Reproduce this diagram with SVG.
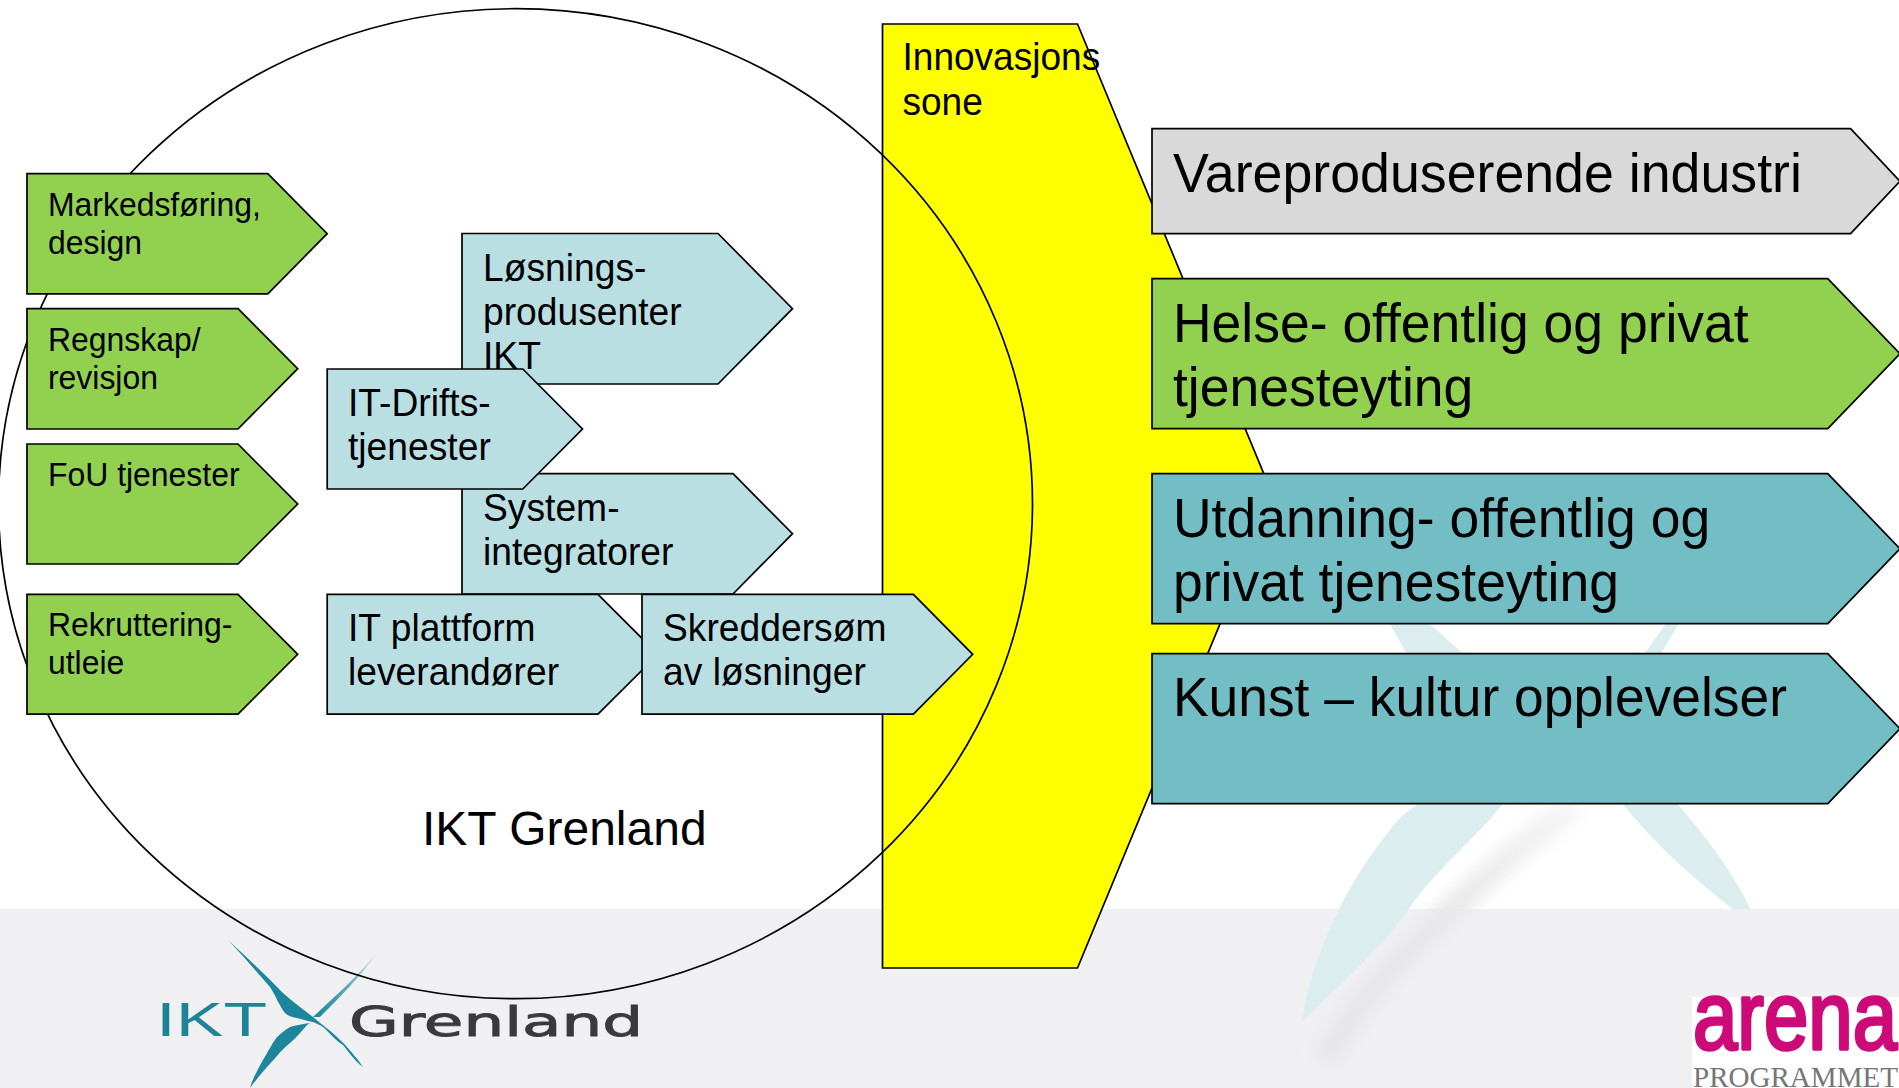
<svg xmlns="http://www.w3.org/2000/svg" width="1899" height="1088" viewBox="0 0 1899 1088">
<style>
.s{stroke:#000;stroke-width:1.7;stroke-linejoin:miter}
.g{fill:#92D050}.b{fill:#B9DFE3}.t{fill:#73BEC5}.y{fill:#FFFF00}.h{fill:#D9D9D9}
text{font-family:"Liberation Sans",Arial,sans-serif;fill:#000}
.f33{font-size:33px}.f38{font-size:38.4px}.f48{font-size:48px}.f56{font-size:56px}
.wm{fill:#DCEDF0}.lg{fill:#1C879C}
</style>
<defs>
<filter id="blur" x="-30%" y="-30%" width="160%" height="160%"><feGaussianBlur stdDeviation="8"/></filter>
<linearGradient id="fade" gradientUnits="userSpaceOnUse" x1="377" y1="953" x2="315" y2="1017"><stop offset="0" stop-color="#D5E4E8"/><stop offset="0.5" stop-color="#5FA9B8"/><stop offset="1" stop-color="#1C879C"/></linearGradient>
<linearGradient id="shade" gradientUnits="userSpaceOnUse" x1="1575" y1="805" x2="1325" y2="1060"><stop offset="0" stop-color="#F5F5F5"/><stop offset="0.45" stop-color="#E8E8EA"/><stop offset="1" stop-color="#E6E6E8"/></linearGradient>
</defs>
<g id="background">
<rect width="1899" height="1088" fill="#fff"/>
<rect y="909" width="1899" height="179" fill="#F0F0F2"/>
</g>
<g id="watermark">
<path d="M1575 805C1500 860 1440 920 1400 960C1370 990 1340 1030 1325 1060" fill="none" stroke="url(#shade)" stroke-width="26" filter="url(#blur)"/>
<path class="wm" d="M1302 1022C1310 960 1345 885 1390 830C1400 815 1420 800 1440 795L1510 795C1480 835 1440 865 1410 907C1385 945 1350 975 1302 1022Z"/>
<path class="wm" d="M1385 615L1420 615L1470 660L1410 660Z"/>
<path class="wm" d="M1672 615L1684 615L1657 660L1640 660Z"/>
<path class="wm" d="M1615 795L1670 795C1705 835 1735 875 1750 909L1733 909C1695 880 1655 845 1615 795Z"/>
</g>
<g id="logo-ikt-grenland">
<text x="156" y="1036" font-size="49" textLength="111" lengthAdjust="spacingAndGlyphs" style="fill:#1F8397">IKT</text>
<text x="349" y="1036" font-size="41" textLength="294" lengthAdjust="spacingAndGlyphs" style="fill:#3A3A3C;stroke:#3A3A3C;stroke-width:0.9;font-family:'DejaVu Sans',sans-serif">Grenland</text>
<path d="M377 953C360 977 340 997 320 1017L313 1017C333 998 357 977 377 953Z" fill="url(#fade)"/>
<path class="lg" d="M229 941C250 960 265 975 283 993C293 1002 303 1009 313 1017C322 1025 330 1030 337 1037C347 1046 356 1057 363 1067C356 1062 350 1054 343 1045C335 1040 330 1033 323 1027C320 1025 316 1023 313 1022C305 1021 303 1019 297 1018C292 1017 288 1016 285 1013C282 1010 281 1006 278 1002C276 997 273 992 270 987C257 972 243 956 229 941Z"/>
<path class="lg" d="M250 1088C253 1078 258 1069 263 1060C268 1052 271 1045 277 1037C281 1033 285 1030 290 1027C296 1025 303 1024 310 1023L307 1025C301 1032 296 1038 290 1043C281 1050 274 1060 267 1067C261 1074 255 1081 250 1088Z"/>
</g>
<g id="logo-arena">
<rect x="1692" y="997" width="207" height="91" fill="#fff"/>
<text x="1693" y="1049" font-size="96" textLength="204" lengthAdjust="spacingAndGlyphs" style="fill:#CC0A78;stroke:#CC0A78;stroke-width:3.5;stroke-linejoin:round">arena</text>
<text x="1693" y="1087" font-size="29" textLength="205" lengthAdjust="spacingAndGlyphs" style="font-family:'Liberation Serif',serif;fill:#767676">PROGRAMMET</text>
</g>
<g id="innovasjonssone">
<polygon class="s y" points="882.5,24 1077.5,24 1273,496 1077.5,968 882.5,968"/>
<text class="f38" transform="matrix(.965 0 0 1 902.5 69.5)">Innovasjons</text>
<text class="f38" transform="matrix(.965 0 0 1 902.5 115)">sone</text>
</g>
<g id="ikt-grenland">
<ellipse cx="515.5" cy="503.7" rx="517" ry="495" fill="none" stroke="#000" stroke-width="1.7"/>
<text class="f48" x="422" y="844.5">IKT Grenland</text>
</g>
<g id="markedsforing">
<polygon class="s g" points="27,173.7 267.8,173.7 327.2,233.7 267.8,293.9 27,293.9"/>
<text class="f33" transform="matrix(.967 0 0 1 48 216)">Markedsføring,</text>
<text class="f33" transform="matrix(.967 0 0 1 48 253.5)">design</text>
</g>
<g id="regnskap">
<polygon class="s g" points="27,308.6 238,308.6 297.7,368.7 238,429 27,429"/>
<text class="f33" transform="matrix(.967 0 0 1 48 350.5)">Regnskap/</text>
<text class="f33" transform="matrix(.967 0 0 1 48 388.5)">revisjon</text>
</g>
<g id="fou">
<polygon class="s g" points="27,444 238,444 297.7,504 238,564 27,564"/>
<text class="f33" transform="matrix(.967 0 0 1 48 486)">FoU tjenester</text>
</g>
<g id="rekruttering">
<polygon class="s g" points="27,594.3 238,594.3 297.7,654.3 238,714.2 27,714.2"/>
<text class="f33" transform="matrix(.967 0 0 1 48 636)">Rekruttering-</text>
<text class="f33" transform="matrix(.967 0 0 1 48 673.5)">utleie</text>
</g>
<g id="losningsprodusenter">
<polygon class="s b" points="462,233.5 718,233.5 792.5,308.7 718,384 462,384"/>
<text class="f38" transform="matrix(.97 0 0 1 483 281)">Løsnings-</text>
<text class="f38" transform="matrix(.97 0 0 1 483 325)">produsenter</text>
<text class="f38" transform="matrix(.97 0 0 1 483 369)">IKT</text>
</g>
<g id="systemintegratorer">
<polygon class="s b" points="462,473.7 733,473.7 792.5,533.7 733,594 462,594"/>
<text class="f38" transform="matrix(.97 0 0 1 483 520.5)">System-</text>
<text class="f38" transform="matrix(.97 0 0 1 483 564.5)">integratorer</text>
</g>
<g id="it-drifts">
<polygon class="s b" points="327.2,369 522.8,369 582.5,429 522.8,489 327.2,489"/>
<text class="f38" transform="matrix(.97 0 0 1 348 416)">IT-Drifts-</text>
<text class="f38" transform="matrix(.97 0 0 1 348 459.5)">tjenester</text>
</g>
<g id="it-plattform">
<polygon class="s b" points="327.2,594.3 598,594.3 658,654.3 598,714.2 327.2,714.2"/>
<text class="f38" transform="matrix(.97 0 0 1 348 640.5)">IT plattform</text>
<text class="f38" transform="matrix(.97 0 0 1 348 684.5)">leverandører</text>
</g>
<g id="skreddersom">
<polygon class="s b" points="642,594.3 913.4,594.3 972.7,654.3 913.4,714.2 642,714.2"/>
<text class="f38" transform="matrix(.97 0 0 1 663 640.5)">Skreddersøm</text>
<text class="f38" transform="matrix(.97 0 0 1 663 684.5)">av løsninger</text>
</g>
<g id="vareproduserende">
<polygon class="s h" points="1152,128.7 1850.6,128.7 1900,181.2 1850.6,233.7 1152,233.7"/>
<text class="f56" transform="matrix(.959 0 0 1 1173 191.5)">Vareproduserende industri</text>
</g>
<g id="helse">
<polygon class="s g" points="1152,278.7 1827.8,278.7 1900,353.7 1827.8,428.7 1152,428.7"/>
<text class="f56" transform="matrix(.955 0 0 1 1173 342)">Helse- offentlig og privat</text>
<text class="f56" transform="matrix(.955 0 0 1 1173 405.5)">tjenesteyting</text>
</g>
<g id="utdanning">
<polygon class="s t" points="1152,473.7 1827.8,473.7 1900,548.7 1827.8,623.7 1152,623.7"/>
<text class="f56" transform="matrix(.955 0 0 1 1173 536.5)">Utdanning- offentlig og</text>
<text class="f56" transform="matrix(.955 0 0 1 1173 600.5)">privat tjenesteyting</text>
</g>
<g id="kunst">
<polygon class="s t" points="1152,653.7 1827.8,653.7 1900,728.7 1827.8,803.7 1152,803.7"/>
<text class="f56" transform="matrix(.953 0 0 1 1173 716)">Kunst – kultur opplevelser</text>
</g>
</svg>
